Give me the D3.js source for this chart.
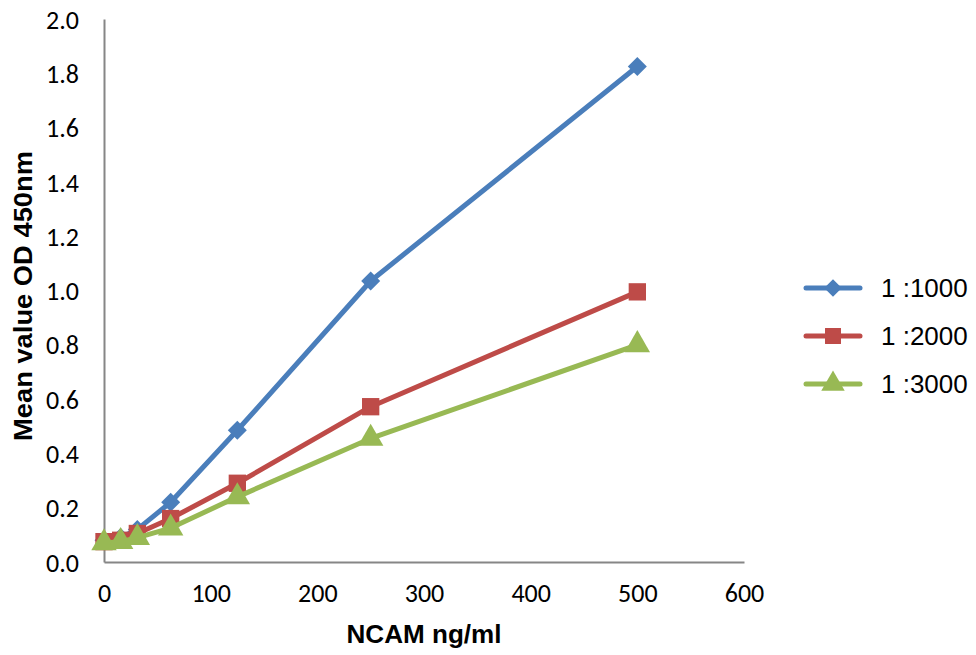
<!DOCTYPE html>
<meta charset="utf-8">
<style>
  body { margin: 0; background: #fff; }
  .title { font-family: "Liberation Sans", Arial, sans-serif; font-weight: bold; font-size: 25px; }
  .legend text { font-family: "Liberation Sans", Arial, sans-serif; font-size: 26px; }
</style>
<body>
<svg width="976" height="655"></svg>
<script src="https://cdnjs.cloudflare.com/ajax/libs/d3/7.8.5/d3.min.js"></script>
<script>
// data --------------------------------------------------------------
var conc = [0, 15.6, 31.25, 62.5, 125, 250, 500];
var names = ["1 :1000", "1 :2000", "1 :3000"];
var od1000 = [0.08, 0.09, 0.12, 0.22, 0.485, 1.035, 1.825];
var od2000 = [0.075, 0.08, 0.105, 0.16, 0.29, 0.572, 0.995];
var od3000 = [0.07, 0.075, 0.09, 0.125, 0.24, 0.455, 0.80];
var xTicks = [0, 100, 200, 300, 400, 500, 600];
var yTicks = [0, 0.2, 0.4, 0.6, 0.8, 1.0, 1.2, 1.4, 1.6, 1.8, 2.0];
var colors = ["#4A7EBB", "#BE4B48", "#98B954"];
var symbols = [d3.symbolDiamond2, d3.symbolSquare, d3.symbolTriangle];
//--------------------------------------------------------------------

var svg = d3.select("svg");
var x = d3.scaleLinear().domain([0, 600]).range([104, 744]);
var y = d3.scaleLinear().domain([0, 2]).range([562, 19]);

// axes
var gx = svg.append("g").attr("transform", "translate(0,562)")
  .call(d3.axisBottom(x).tickValues(xTicks).tickSize(0).tickPadding(22));
var gy = svg.append("g").attr("transform", "translate(104,0)")
  .call(d3.axisLeft(y).tickValues(yTicks).tickSize(0).tickPadding(25).tickFormat(d3.format(".1f")));
[gx, gy].forEach(function(g) {
  g.attr("font-family", "Carlito, Lato, 'Open Sans', sans-serif").attr("font-size", 26);
  g.select(".domain").attr("stroke", "#868686").attr("stroke-width", 2);
  g.selectAll(".tick text").attr("fill", "#000");
});
gy.selectAll(".tick text").attr("dy", "0.35em");

svg.append("text").attr("class", "title")
  .attr("x", 424).attr("y", 643).attr("text-anchor", "middle")
  .attr("textLength", 155).attr("lengthAdjust", "spacingAndGlyphs")
  .text("NCAM ng/ml");
svg.append("text").attr("class", "title")
  .attr("transform", "translate(32,296) rotate(-90)").attr("text-anchor", "middle")
  .attr("textLength", 290).attr("lengthAdjust", "spacingAndGlyphs")
  .text("Mean value OD 450nm");

// series
var series = [od1000, od2000, od3000];
var line = d3.line().x(function(d, i) { return x(conc[i]); }).y(function(d) { return y(d); });
var markerSize = [230, 300, 280];

series.forEach(function(vals, s) {
  svg.append("path").datum(vals)
    .attr("d", line).attr("fill", "none")
    .attr("stroke", colors[s]).attr("stroke-width", 5)
    .attr("stroke-linejoin", "round");
  svg.selectAll(".m" + s).data(vals).enter().append("path")
    .attr("class", "m" + s)
    .attr("d", d3.symbol().type(symbols[s]).size(markerSize[s]))
    .attr("transform", function(d, i) {
      return "translate(" + x(conc[i]) + "," + y(d) + ")";
    })
    .attr("fill", colors[s]);
});

// legend
var lg = svg.append("g").attr("class", "legend");
names.forEach(function(n, i) {
  var yy = 288 + i * 48;
  lg.append("line").attr("x1", 806).attr("x2", 860).attr("y1", yy).attr("y2", yy)
    .attr("stroke", colors[i]).attr("stroke-width", 5).attr("stroke-linecap", "round");
  lg.append("path")
    .attr("d", d3.symbol().type(symbols[i]).size(markerSize[i] * 0.85))
    .attr("transform", "translate(833," + yy + ")")
    .attr("fill", colors[i]);
  lg.append("text").attr("x", 881).attr("y", yy).attr("dy", "0.36em").text(n);
});
</script>
</body>
